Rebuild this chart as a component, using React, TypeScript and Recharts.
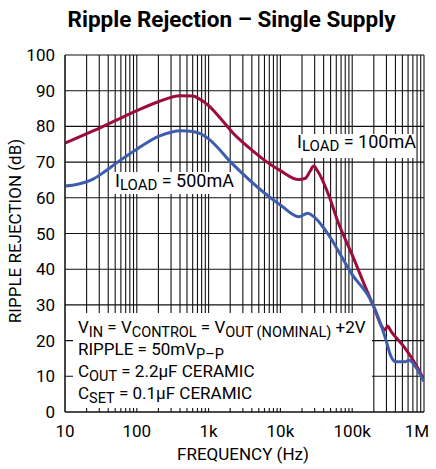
import React from "react";
import { LineChart, Line, XAxis, YAxis, CartesianGrid } from "recharts";

// ---- data ----
const load100Freq = [10, 25, 50, 100, 200, 400, 600, 800, 1000, 1500, 2150, 3000, 4500, 6300, 10000, 18000, 22000, 26000, 29000, 33000, 48000, 62000, 100000, 190000, 290000, 310000, 350000, 525000, 800000, 1000000];
const load100Db = [75.3, 78.8, 81.6, 84.4, 86.9, 88.6, 88.5, 87.3, 85.8, 82, 78.3, 75.5, 72.5, 70.2, 67.6, 65.1, 65.4, 67.5, 68.9, 67.5, 60.3, 53.8, 44, 30.5, 23, 24.1, 22.5, 18.3, 12.7, 9];

const load500Freq = [10, 15, 25, 35, 50, 100, 200, 420, 600, 800, 1000, 2150, 6300, 10000, 18000, 24000, 30000, 42000, 100000, 190000, 295000, 340000, 400000, 550000, 620000, 760000, 1000000];
const load500Db = [63.3, 63.8, 65.3, 67.2, 69.5, 73.6, 77.2, 78.8, 78.6, 77.8, 76.5, 69.5, 61, 58, 54.7, 55.7, 54.5, 51, 38.5, 30.5, 20.2, 16, 14.1, 14.1, 14.5, 12.7, 8.5];

const majorTicks = [10, 100, 1000, 10000, 100000, 1000000];
const majorLabels = ["10", "100", "1k", "10k", "100k", "1M"];
const decades = [10, 100, 1000, 10000, 100000];
const multipliers = [1, 2, 3, 4, 5, 6, 7, 8, 9];
const yTicks = [0, 10, 20, 30, 40, 50, 60, 70, 80, 90, 100];

const gridTicks = decades.flatMap((d) => multipliers.map((m) => d * m)).concat([1000000]);
const load100Data = load100Freq.map((f, i) => ({ f, v: load100Db[i] }));
const load500Data = load500Freq.map((f, i) => ({ f, v: load500Db[i] }));

const RED = "#9C0D3A";
const BLUE = "#3D5DAE";
const FONT = "Roboto, 'Liberation Sans', sans-serif";

const XTick = (props: any) => {
  const { x, y, payload } = props;
  const idx = majorTicks.indexOf(payload.value);
  if (idx < 0) return null;
  const dx = payload.value === 1000000 ? -7 : 0;
  return (
    <text x={x + dx} y={y} dy="0.71em" textAnchor="middle" fill="#000" fontSize={17} fontFamily={FONT}>
      {majorLabels[idx]}
    </text>
  );
};

const sub = (t: string, size = 14.5, top = 3.5) => (
  <span style={{ fontSize: size, position: "relative", top }}>{t}</span>
);

export default function App() {
  return (
    <div style={{ position: "absolute", left: 0, top: 0, width: 436, height: 469, background: "#fff", fontFamily: FONT, color: "#000" }}>
      <div style={{ position: "absolute", left: 0, top: 4, width: 463, textAlign: "center", fontSize: 22.5, fontWeight: 700, lineHeight: "30px", whiteSpace: "nowrap" }}>
        Ripple Rejection – Single Supply
      </div>
      <LineChart width={436} height={469} data={load100Data} margin={{ top: 55, right: 12, left: 0, bottom: 0 }}>
        <CartesianGrid stroke="#111" strokeWidth={1.1} />
        <XAxis
          dataKey="f"
          type="number"
          scale="log"
          domain={[10, 1000000]}
          allowDataOverflow
          ticks={gridTicks}
          interval={0}
          tick={<XTick />}
          tickLine={false}
          tickSize={0}
          tickMargin={13}
          height={57}
          axisLine={{ stroke: "#111" }}
        />
        <YAxis
          type="number"
          domain={[0, 100]}
          ticks={yTicks}
          interval={0}
          width={65}
          tickLine={false}
          tickSize={0}
          tickMargin={10}
          tick={{ fill: "#000", fontSize: 17, fontFamily: FONT }}
          axisLine={{ stroke: "#111" }}
        />
        <Line data={load100Data} dataKey="v" type="monotone" stroke={RED} strokeWidth={3} dot={false} isAnimationActive={false} />
        <Line data={load500Data} dataKey="v" type="monotone" stroke={BLUE} strokeWidth={3} dot={false} isAnimationActive={false} />
      </LineChart>

      {/* axis titles */}
      <div style={{ position: "absolute", left: 15 - 125, top: 231 - 10, width: 250, height: 20, lineHeight: "20px", fontSize: 17, textAlign: "center", transform: "rotate(-90deg)", whiteSpace: "nowrap" }}>
        RIPPLE REJECTION (dB)
      </div>
      <div style={{ position: "absolute", left: 243 - 100, top: 444, width: 200, lineHeight: "20px", fontSize: 17, textAlign: "center", whiteSpace: "nowrap" }}>
        FREQUENCY (Hz)
      </div>

      {/* curve labels */}
      <div style={{ position: "absolute", left: 110, top: 172, width: 125, height: 22, background: "#fff", boxSizing: "border-box", paddingLeft: 5, fontSize: 18, lineHeight: "18px", whiteSpace: "nowrap" }}>
        I{sub("LOAD", 15, 3)} = 500mA
      </div>
      <div style={{ position: "absolute", left: 293, top: 134, width: 122, height: 24, background: "#fff", boxSizing: "border-box", paddingLeft: 4, fontSize: 18, lineHeight: "16px", whiteSpace: "nowrap" }}>
        I{sub("LOAD", 15, 3)} = 100mA
      </div>

      {/* conditions box */}
      <div style={{ position: "absolute", left: 73, top: 313, width: 299, height: 95, background: "#fff", boxSizing: "border-box", paddingLeft: 5, paddingTop: 3, fontSize: 17, whiteSpace: "nowrap" }}>
        <div style={{ lineHeight: "22px", height: 22 }}>
          V{sub("IN")} = V{sub("CONTROL")} = V{sub("OUT (NOMINAL)")} +2V
        </div>
        <div style={{ lineHeight: "22px", height: 22 }}>
          RIPPLE = 50mV{sub("P–P")}
        </div>
        <div style={{ lineHeight: "22px", height: 22 }}>
          C{sub("OUT")} = 2.2µF CERAMIC
        </div>
        <div style={{ lineHeight: "22px", height: 22 }}>
          C{sub("SET")} = 0.1µF CERAMIC
        </div>
      </div>
    </div>
  );
}
